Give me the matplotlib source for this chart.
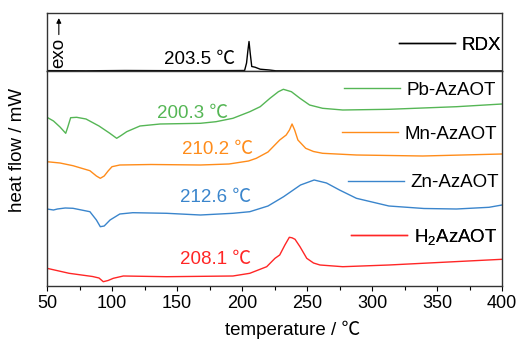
import numpy as np
import matplotlib
matplotlib.use("Agg")
import matplotlib.pyplot as plt
from matplotlib.ticker import MultipleLocator

FONT = ['Liberation Sans', 'Noto Sans CJK SC', 'DejaVu Sans']
plt.rcParams['font.family'] = FONT
plt.rcParams['mathtext.fontset'] = 'custom'
plt.rcParams['mathtext.rm'] = 'Liberation Sans'
plt.rcParams['mathtext.default'] = 'regular'
FS = 13.5

# temperature (C) / heat flow (arbitrary, stacked)
rdx_T = [50, 80, 110, 150, 190, 202, 203.5, 204.5, 205.4, 206.3, 207.5, 210, 214, 221, 226, 250, 300, 400]
rdx_y = [0.4, 0.2, 0.5, 0.3, 0.4, 0.5, 8, 20, 29.5, 18, 4.5, 3.8, 1.8, 1.0, 0.2, 0.1, 0.1, 0.1]

pb_T = [50, 55, 60, 64.4, 66, 68.2, 72.8, 80, 90, 98, 103.6, 107, 111.3, 121.5, 137, 168, 180, 193,
        206, 214, 221.5, 228, 231.8, 238, 244.6, 252, 262, 277.5, 313, 365, 400]
pb_y = [168.7, 165, 159, 152.7, 159, 168.3, 168.7, 167, 160, 153, 147.7, 150.5, 154.3, 160, 162, 162.7, 164.3, 167.7,
        174.3, 179.3, 187.7, 194.3, 196.7, 194.3, 187.7, 181, 177.7, 176, 176.7, 179.3, 182]

mn_T = [50, 60, 70, 83, 88, 91, 94, 97, 100, 106, 130, 168, 190, 205, 211, 220, 229, 234, 236.5, 238.5,
        240.5, 243, 249, 255, 262, 288, 339, 400]
mn_y = [124.3, 123, 120.3, 115.3, 110, 107.7, 110, 115, 119.3, 121, 121.5, 121, 122, 125, 127.7, 134, 146, 151, 156, 162,
        156, 146, 137.7, 134.5, 132.7, 131, 130, 132]

zn_T = [50, 55, 58, 64, 70, 83, 88, 91, 94, 98.5, 106, 116, 142, 168, 193, 206, 220, 232, 245, 255.5,
        265, 275, 288, 313, 340, 365, 390, 400]
zn_y = [77, 76, 77, 78, 77.7, 74.3, 66, 59.3, 60, 66, 72, 73.3, 72.7, 71, 72.7, 74.3, 80, 89.3, 101, 106,
        103, 96, 87.7, 80, 77.5, 77, 78.7, 81]

h2_T = [50, 67, 85, 90, 93.3, 97, 101, 108.7, 142, 193, 206, 219, 225.4, 229, 233, 236.4, 238.5, 240.8,
        244.6, 249.8, 255, 260, 277.5, 313, 400]
h2_y = [17.7, 12.7, 9.5, 8, 4.3, 5.5, 7.7, 10, 9.3, 10, 12.7, 19.3, 27.7, 31, 41, 48.7, 48.2, 46.7,
        39.3, 27.7, 23, 21, 19.3, 21, 26.7]

names = ['Pb-AzAOT', 'Mn-AzAOT', 'Zn-AzAOT', 'H$_2$AzAOT']
colors = ['#55b655', '#ff8c1a', '#3a85cc', '#ff2626']
curves = [(pb_T, pb_y), (mn_T, mn_y), (zn_T, zn_y), (h2_T, h2_y)]

peak_labels = ['200.3 ℃', '210.2 ℃', '212.6 ℃', '208.1 ℃']
label_pos = [(162, 172.5), (181, 136), (180, 88), (180, 27)]
legend_pos = [(278.5, 196), (277, 152), (281.5, 103.3), (283.8, 49.3)]

fig = plt.figure(figsize=(5.16, 3.40), dpi=100)
ax_top = fig.add_axes([47/516, 1-71/340, 455/516, 58/340])
ax = fig.add_axes([47/516, 1-286/340, 455/516, 215/340], sharex=ax_top)

for a in (ax_top, ax):
    for s in a.spines.values():
        s.set_color('#333333')
        s.set_linewidth(1.0)
    a.set_yticks([])

# top panel: RDX
rdx_line, = ax_top.plot(rdx_T, rdx_y, color='black', lw=1.0)
ax_top.set_ylim(0, 58)
ax_top.tick_params(axis='x', bottom=False, labelbottom=False)
ax_top.text(167, 11, '203.5 ℃', fontsize=FS, color='black', ha='center', va='center')
leg = ax_top.legend([rdx_line], ['RDX'], loc='center left', bbox_to_anchor=(320.8, 26),
                    bbox_transform=ax_top.transData, frameon=False, fontsize=FS,
                    handlelength=3.0, handletextpad=0.35, borderpad=0, borderaxespad=0)
ax_top.add_artist(leg)

# exo arrow
ax_top.annotate('', xy=(0.026, 0.96), xytext=(0.026, 0.58), xycoords='axes fraction',
                arrowprops=dict(arrowstyle='-|>', color='black', lw=0.8, mutation_scale=7))
ax_top.text(0.026, 0.31, 'exo', transform=ax_top.transAxes, rotation=90,
            ha='center', va='center', fontsize=FS)

# bottom panel
for (T, y), c, nm, lab, lp, gp in zip(curves, colors, names, peak_labels, label_pos, legend_pos):
    ln, = ax.plot(T, y, color=c, lw=1.0)
    ax.text(lp[0], lp[1], lab, color=c, fontsize=FS, ha='center', va='center')
    lg = ax.legend([ln], [nm], loc='center left', bbox_to_anchor=gp, bbox_transform=ax.transData,
                   frameon=False, fontsize=FS, handlelength=3.0, handletextpad=0.35,
                   borderpad=0, borderaxespad=0)
    ax.add_artist(lg)

ax.set_ylim(0, 215)
ax.set_xlim(50, 400)
ax.xaxis.set_major_locator(MultipleLocator(50))
ax.xaxis.set_minor_locator(MultipleLocator(25))
ax.tick_params(axis='x', which='major', direction='out', length=3.6, width=0.8, pad=3, labelsize=13)
ax.tick_params(axis='x', which='minor', direction='out', length=3.0, width=0.8)
ax.set_xlabel('temperature / ℃', fontsize=FS)
ax.xaxis.set_label_coords(0.54, -0.16)

fig.text(18/516, 1-149.5/340, 'heat flow / mW', rotation=90, ha='center', va='center', fontsize=FS)

fig.savefig('out.png', dpi=100)
